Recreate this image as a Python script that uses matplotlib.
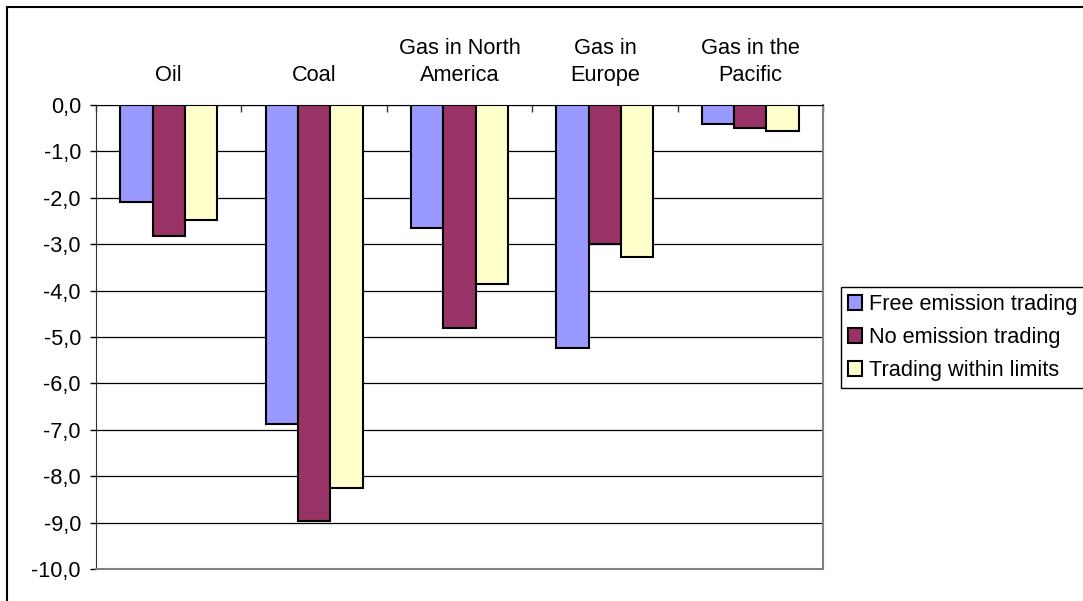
import matplotlib.pyplot as plt
import matplotlib.patches as patches
import numpy as np

plt.rcParams['font.family'] = ['Liberation Sans', 'DejaVu Sans']

categories = ['Oil', 'Coal', 'Gas in North\nAmerica', 'Gas in\nEurope', 'Gas in the\nPacific']
series_names = ['Free emission trading', 'No emission trading', 'Trading within limits']
free_trading = [-2.1, -6.87, -2.66, -5.24, -0.41]
no_trading = [-2.82, -8.96, -4.81, -3.0, -0.50]
limited_trading = [-2.48, -8.25, -3.86, -3.27, -0.55]
y_ticks = [0, -1, -2, -3, -4, -5, -6, -7, -8, -9, -10]

colors = ['#9999ff', '#993366', '#ffffcc']
FS = 15.7


def draw_chart():
    fig = plt.figure(figsize=(10.83, 6.01), dpi=100)
    ax = fig.add_axes([96 / 1083, 1 - 569 / 601, (823 - 96) / 1083, (569 - 105) / 601])

    x = np.arange(len(categories))
    width = 1 / 4.5
    all_series = [free_trading, no_trading, limited_trading]
    for i, (vals, name) in enumerate(zip(all_series, series_names)):
        ax.bar(x + (i - 1) * width, vals, width, color=colors[i], edgecolor='black',
               linewidth=1.5, label=name, zorder=3)

    ax.set_xlim(-0.5, len(categories) - 0.5)
    ax.set_ylim(-10, 0)

    # y axis with comma decimals
    ax.set_yticks(y_ticks)
    ax.set_yticklabels([f'{v:.1f}'.replace('.', ',') for v in y_ticks], fontsize=FS)
    ax.tick_params(axis='y', length=4.3, width=1, pad=6.5, color='black')
    ax.yaxis.grid(True, color='black', linewidth=0.9, zorder=0)

    # category labels above the zero line, boundary marks pointing down
    ax.xaxis.tick_top()
    ax.set_xticks(x)
    ax.set_xticklabels(categories, fontsize=FS, linespacing=1.42)
    ax.tick_params(axis='x', which='major', length=0, pad=13.5)
    ax.set_xticks(np.arange(len(categories) + 1) - 0.5, minor=True)
    ax.tick_params(axis='x', which='minor', direction='in', length=5, width=1, color='#333333',
                   top=True, bottom=False)

    ax.spines['top'].set_color('black')
    ax.spines['left'].set_color('#333333')
    for side in ['right', 'bottom']:
        ax.spines[side].set_color('#808080')
        ax.spines[side].set_linewidth(1.5)

    fig.legend(loc='upper left', bbox_to_anchor=(841 / 1083, 1 - 287 / 601), borderaxespad=0,
               fontsize=FS, handlelength=0.65, handleheight=0.65, handletextpad=0.3,
               labelspacing=0.56, borderpad=0.32, fancybox=False, edgecolor='black',
               framealpha=1)

    # outer chart frame
    fig.add_artist(patches.Rectangle((7 / 1083, -0.1), 1.2, 1 - 7 / 601 + 0.1,
                                     transform=fig.transFigure, fill=False,
                                     edgecolor='black', linewidth=1.5))

    fig.savefig('out.png', dpi=100)


if __name__ == '__main__':
    draw_chart()
